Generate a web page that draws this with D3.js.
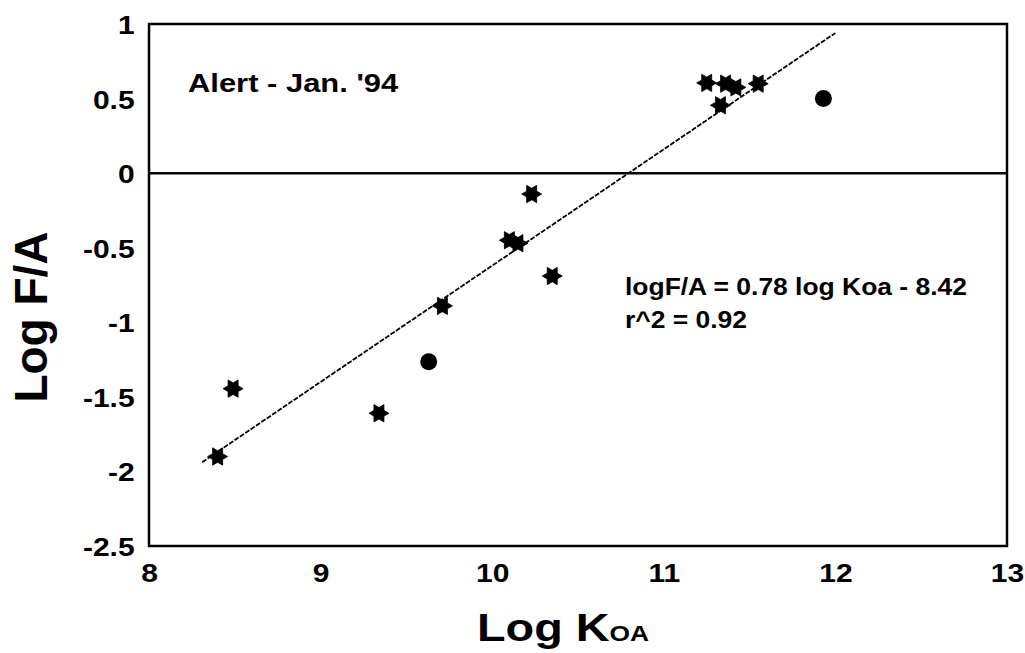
<!DOCTYPE html>
<html>
<head>
<meta charset="utf-8">
<script src="https://cdn.jsdelivr.net/npm/d3@7"></script>
<style>
  html, body { margin: 0; padding: 0; background: #fff; }
  svg { display: block; }
  text { font-family: "Liberation Sans", Arial, Helvetica, sans-serif; font-weight: bold; fill: #000; }
</style>
</head>
<body>
<svg id="chart" width="1025" height="653"></svg>
<script>
// Hexagram markers: measured log KOA and log F/A pairs
const starKoa = [8.40, 8.49, 9.34, 9.71, 10.10, 10.15, 10.23, 10.35, 11.25, 11.36, 11.42, 11.55, 11.33];
const starFA  = [-1.90, -1.445, -1.61, -0.89, -0.45, -0.47, -0.14, -0.69, 0.605, 0.60, 0.575, 0.60, 0.455];
// Filled-circle markers
const circleKoa = [9.63, 11.93];
const circleFA  = [-1.265, 0.50];
// Regression: logF/A = 0.78 log Koa - 8.42
const fitSlope = 0.78;
const fitIntercept = -8.42;
const fitRange = [8.31, 12.0];
// Axis ticks
const xTicks = [8, 9, 10, 11, 12, 13];
const yTicks = [1, 0.5, 0, -0.5, -1, -1.5, -2, -2.5];

const svg = d3.select("#chart");
const plotL = 149, plotR = 1007, plotT = 24, plotB = 546;

const x = d3.scaleLinear().domain([8, 13]).range([plotL, plotR]);
const y = d3.scaleLinear().domain([-2.5, 1]).range([plotB, plotT]);

// Tick labels (no tick marks, wide bold digits, plain hyphen for negatives)
const yAxis = svg.append("g")
  .attr("transform", `translate(${plotL},0)`)
  .call(d3.axisLeft(y).tickValues(yTicks).tickSize(0).tickPadding(12).tickFormat(d => String(d)));
yAxis.select(".domain").remove();
yAxis.selectAll("text")
  .attr("dy", "0.38em")
  .style("font-size", "25px")
  .attr("transform", "scale(1.2,1)");

const xAxis = svg.append("g")
  .attr("transform", `translate(0,${plotB})`)
  .call(d3.axisBottom(x).tickValues(xTicks).tickSize(0).tickPadding(18).tickFormat(d => String(d)));
xAxis.select(".domain").remove();
xAxis.selectAll("text")
  .style("font-size", "25px")
  .attr("transform", "scale(1.2,1)");

// Plot frame
svg.append("rect")
  .attr("x", plotL).attr("y", plotT)
  .attr("width", plotR - plotL).attr("height", plotB - plotT)
  .attr("fill", "none").attr("stroke", "#000").attr("stroke-width", 2.5);

// Zero reference line
svg.append("line")
  .attr("x1", plotL).attr("x2", plotR)
  .attr("y1", y(0)).attr("y2", y(0))
  .attr("stroke", "#000").attr("stroke-width", 2.5);

// Regression line
svg.append("line")
  .attr("x1", x(fitRange[0])).attr("y1", y(fitSlope * fitRange[0] + fitIntercept))
  .attr("x2", x(fitRange[1])).attr("y2", y(fitSlope * fitRange[1] + fitIntercept))
  .attr("stroke", "#000").attr("stroke-width", 1.8)
  .attr("stroke-dasharray", "5,1.5");

// Six-pointed star path, points at left and right
function hexagram(R) {
  const r = R / Math.sqrt(3);
  const pts = [];
  for (let i = 0; i < 12; i++) {
    const a = i * Math.PI / 6;
    const rad = i % 2 === 0 ? R : r;
    pts.push([rad * Math.cos(a), rad * Math.sin(a)]);
  }
  return "M" + pts.map(p => p.join(",")).join("L") + "Z";
}

const stars = d3.zip(starKoa, starFA);
svg.append("g").selectAll("path")
  .data(stars)
  .join("path")
  .attr("d", hexagram(10))
  .attr("transform", d => `translate(${x(d[0])},${y(d[1])})`)
  .attr("fill", "#000")
  .attr("stroke", "#000")
  .attr("stroke-width", 0.8)
  .attr("stroke-linejoin", "round");

const circles = d3.zip(circleKoa, circleFA);
svg.append("g").selectAll("circle")
  .data(circles)
  .join("circle")
  .attr("cx", d => x(d[0]))
  .attr("cy", d => y(d[1]))
  .attr("r", 8.5)
  .attr("fill", "#000");

// Annotations
svg.append("text")
  .attr("transform", "translate(188,92) scale(1.19,1)")
  .style("font-size", "26px")
  .text("Alert - Jan. '94");

svg.append("text")
  .attr("transform", "translate(625,295) scale(1.15,1)")
  .style("font-size", "23px")
  .text(`logF/A = ${fitSlope} log Koa - ${Math.abs(fitIntercept)}`);

svg.append("text")
  .attr("transform", "translate(625,328) scale(1.15,1)")
  .style("font-size", "23px")
  .text("r^2 = 0.92");

// Axis titles
const xTitle = svg.append("text")
  .attr("transform", "translate(477,641) scale(1.2,1)");
xTitle.append("tspan").style("font-size", "39px").text("Log K");
xTitle.append("tspan").style("font-size", "22px").text("OA");

svg.append("text")
  .attr("transform", "translate(47,317) rotate(-90)")
  .attr("text-anchor", "middle")
  .style("font-size", "46px")
  .text("Log F/A");
</script>
</body>
</html>
